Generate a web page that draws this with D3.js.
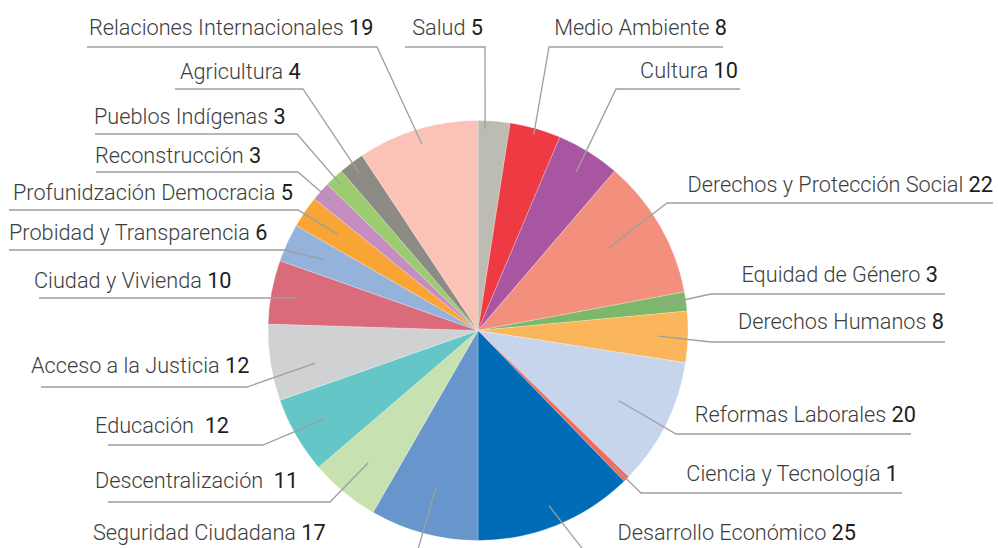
<!DOCTYPE html>
<html>
<head>
<meta charset="utf-8">
<script src="https://cdn.jsdelivr.net/npm/d3@7"></script>
<style>
  body { margin: 0; background: #fff; }
</style>
</head>
<body>
<script>
const width = 998;
const height = 548;

// data, clockwise from 12 o'clock
const categories = [
  "Salud", "Medio Ambiente", "Cultura", "Derechos y Protección Social",
  "Equidad de Género", "Derechos Humanos", "Reformas Laborales",
  "Ciencia y Tecnología", "Desarrollo Económico", "Seguridad Ciudadana",
  "Descentralización ", "Educación ", "Acceso a la Justicia", "Ciudad y Vivienda",
  "Probidad y Transparencia", "Profunidzación Democracia", "Reconstrucción",
  "Pueblos Indígenas", "Agricultura", "Relaciones Internacionales"
];
const values = [5, 8, 10, 22, 3, 8, 20, 1, 25, 17, 11, 12, 12, 10, 6, 5, 3, 3, 4, 19];
const colors = [
  "#bdbcb4", "#ee3b43", "#a855a2", "#f38f7d", "#7db76a", "#fbb55b", "#c7d5ec",
  "#f26b5b", "#006bb6", "#6895cc", "#c7e2b0", "#65c6c8", "#d0d1d3", "#d96b7a",
  "#95b2db", "#f8a535", "#c68dc0", "#9ccc6f", "#8c8b84", "#fbc3b7"
];

// label layout: [text anchor, text x, baseline y, line outer x, line elbow x, line y, angle fraction in slice, radius fraction]
const labelLayout = [
  ["end",   483,  35, 405, 485,  47, 0.23, 0.96],
  ["end",   727,  35, 723, 549,  47, 0.5, 0.97],
  ["end",   738,  78, 740, 616,  89, 0.5, 0.89],
  ["end",   993, 192, 993, 667, 203, 0.44, 0.74],
  ["end",   938, 282, 945, 711, 294, 0.5, 0.87],
  ["end",   944, 329, 945, 711, 342, 0.5, 0.86],
  ["end",   916, 422, 911, 676, 434, 0.5, 0.75],
  ["end",   898, 481, 902, 641, 493, 0.5, 0.91],
  ["end",   856, 540, 870, 588, 556, 0.5, 0.90],
  ["start",  93, 540,  90, 416, 556, 0.5, 0.77],
  ["start",  95, 488, 108, 330, 502, 0.5, 0.82],
  ["start",  95, 433, 108, 263, 445, 0.5, 0.84],
  ["start",  31, 373,  41, 247, 387, 0.38, 0.79],
  ["start",  34, 288,  39, 295, 298, 0.5, 0.88],
  ["start",   9, 240,   9, 285, 250, 0.5, 0.81],
  ["start",  13, 200,   9, 298, 210, 0.5, 0.81],
  ["start",  95, 163,  96, 298, 172, 0.5, 0.92],
  ["start",  94, 124,  95, 297, 134, 0.5, 0.96],
  ["start", 180,  79, 175, 303,  89, 0.5, 0.94],
  ["start",  89,  35,  87, 377,  47, 0.5, 0.93]
];

const cx = 478, cy = 330.5, radius = 210;

const svg = d3.select("body")
  .append("svg")
  .attr("width", width)
  .attr("height", height)
  .attr("viewBox", [0, 0, width, height]);

const pie = d3.pie().sort(null).value(d => d);
const arcs = pie(values);
const arc = d3.arc().innerRadius(0).outerRadius(radius);

const g = svg.append("g").attr("transform", `translate(${cx},${cy})`);

g.selectAll("path")
  .data(arcs)
  .join("path")
  .attr("d", arc)
  .attr("fill", (d, i) => colors[i])
  .attr("stroke", "#fff")
  .attr("stroke-width", 0.4)
  .attr("stroke-opacity", 0.6);

// leader lines
const leaderPoint = (d, i) => {
  const L = labelLayout[i];
  const a = d.startAngle + (d.endAngle - d.startAngle) * L[6];
  const r = radius * L[7];
  return [cx + Math.sin(a) * r, cy - Math.cos(a) * r];
};

svg.append("g")
  .attr("fill", "none")
  .attr("stroke", "#9f9f9f")
  .attr("stroke-width", 1.3)
  .selectAll("polyline")
  .data(arcs)
  .join("polyline")
  .attr("points", (d, i) => {
    const L = labelLayout[i];
    const p = leaderPoint(d, i);
    return [[L[3], L[5]], [L[4], L[5]], p].map(q => q.join(",")).join(" ");
  });

// labels
const labels = svg.append("g")
  .attr("font-family", "Roboto, 'Open Sans', sans-serif")
  .attr("font-size", 21.7)
  .selectAll("text")
  .data(categories)
  .join("text")
  .attr("x", (d, i) => labelLayout[i][1])
  .attr("y", (d, i) => labelLayout[i][2])
  .attr("text-anchor", (d, i) => labelLayout[i][0])
  .style("white-space", "pre");

labels.append("tspan")
  .attr("fill", "#3d3d3d")
  .attr("font-weight", 300)
  .text(d => d + " ");

labels.append("tspan")
  .attr("fill", "#1e1e1e")
  .attr("font-weight", 400)
  .text((d, i) => values[i]);
</script>
</body>
</html>
